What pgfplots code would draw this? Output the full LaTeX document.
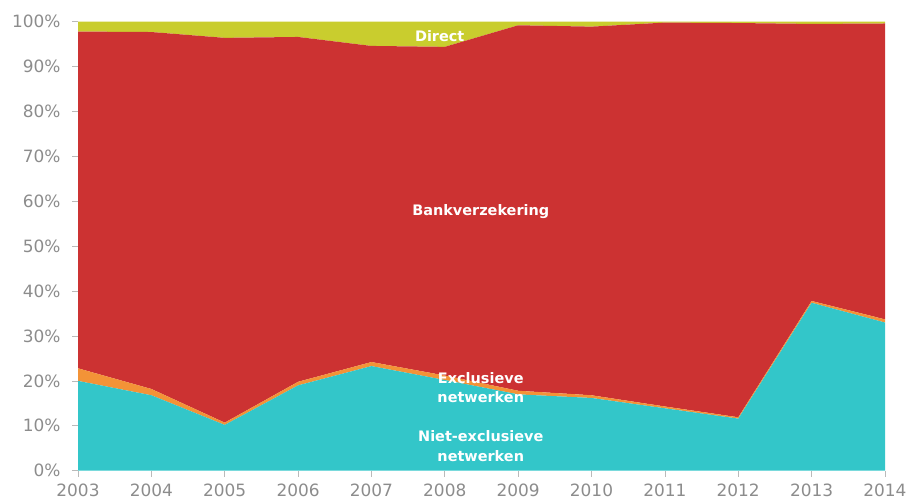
\documentclass[border=0pt]{standalone}
\usepackage{pgfplots}
\pgfplotsset{compat=1.18}
\usepackage{pgfplotstable}
\usepackage{fontspec}
\setmainfont{DejaVu Sans}
\definecolor{cteal}{HTML}{33C6C9}
\definecolor{corange}{HTML}{F39337}
\definecolor{cred}{HTML}{CC3232}
\definecolor{cyellow}{HTML}{C9CD2E}
\definecolor{ctick}{HTML}{8C8C8C}
\pgfplotstableread{
year niet excl bank direct
2003 20.0 2.8 75.0 2.2
2004 16.8 1.4 79.5 2.3
2005 10.2 0.5 85.7 3.6
2006 19.0 0.8 76.8 3.4
2007 23.3 0.9 70.4 5.4
2008 20.2 1.0 73.2 5.6
2009 17.0 0.8 81.4 0.8
2010 16.2 0.6 82.1 1.1
2011 13.9 0.4 85.5 0.2
2012 11.6 0.3 87.8 0.3
2013 37.4 0.4 61.7 0.5
2014 33.0 0.7 65.9 0.4
}\datatable
\begin{document}
\begin{tikzpicture}
\begin{axis}[
  name=ax,
  scale only axis,
  width=807bp, height=449bp,
  xmin=2003, xmax=2014, ymin=0, ymax=100,
  enlargelimits=false,
  stack plots=y,
  xtick={2003,2004,...,2014},
  ytick={0,10,...,100},
  yticklabel={\pgfmathprintnumber{\tick}\%},
  /pgf/number format/1000 sep={},
  /pgf/number format/assume math mode=true,
  tick label style={font=\fontsize{17}{20}\selectfont, text=ctick},
  tick align=outside,
  major tick length=6bp,
  tick style={color=ctick!60, line width=0.6bp},
  axis x line*=bottom,
  axis y line*=left,
  axis line style={draw=none},
  xticklabel style={yshift=-4bp},
  yticklabel style={xshift=-8bp},
  clip=false,
]
\addplot[fill=cteal, draw=none] table[x=year, y=niet] {\datatable} \closedcycle;
\addplot[fill=corange, draw=none] table[x=year, y=excl] {\datatable} \closedcycle;
\addplot[fill=cred, draw=none] table[x=year, y=bank] {\datatable} \closedcycle;
\addplot[fill=cyellow, draw=none] table[x=year, y=direct] {\datatable} \closedcycle;
\coordinate (ldirect) at (axis cs:2007.93,96.8);
\coordinate (lbank) at (axis cs:2008.49,57.7);
\coordinate (lexcl) at (axis cs:2008.49,18.5);
\coordinate (lniet) at (axis cs:2008.49,5.5);
\end{axis}
\begin{scope}[every node/.style={text=white, font=\fontsize{14.5}{19.5}\selectfont\bfseries, align=center}]
\node at (ldirect) {Direct};
\node at (lbank) {Bankverzekering};
\node at (lexcl) {Exclusieve\\netwerken};
\node at (lniet) {Niet-exclusieve\\netwerken};
\end{scope}
\pgfresetboundingbox
\path[use as bounding box] ([xshift=-78bp,yshift=-31.3bp]ax.south west) rectangle ([xshift=24bp,yshift=21.7bp]ax.north east);
\end{tikzpicture}
\end{document}
